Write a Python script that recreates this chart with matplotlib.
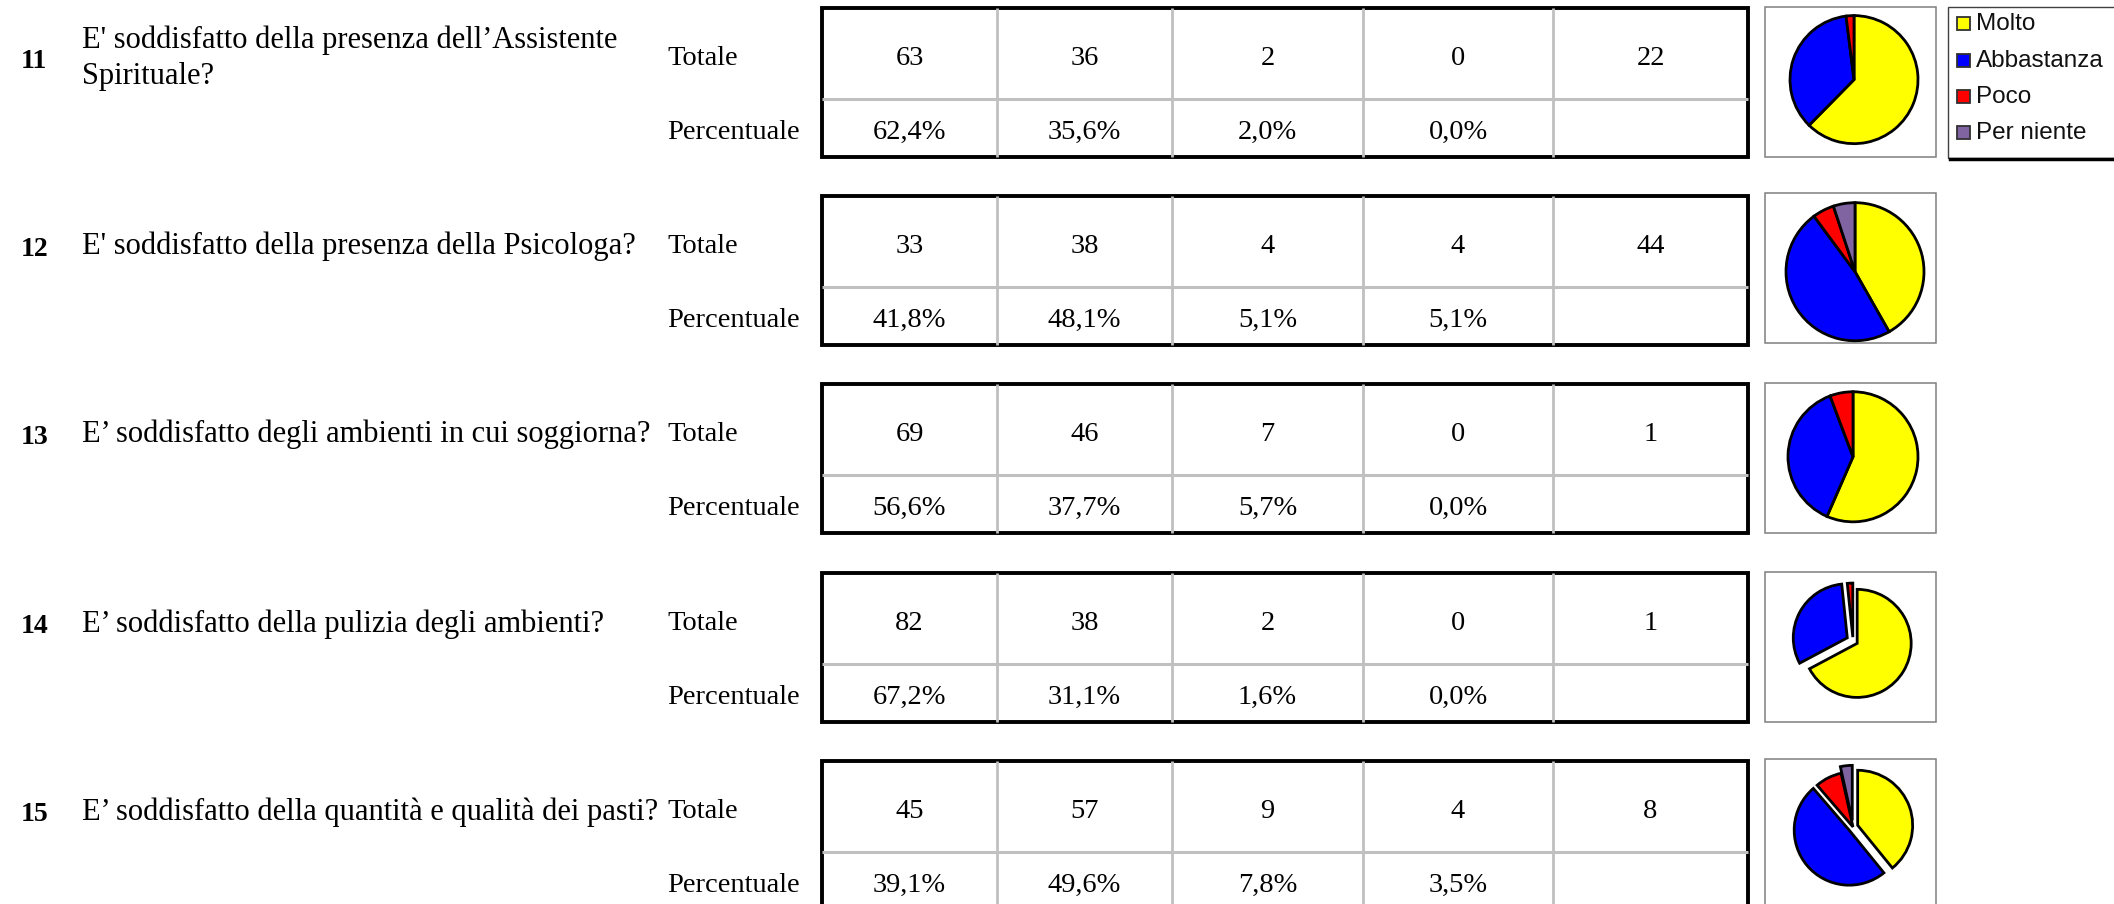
import matplotlib
matplotlib.use("Agg")
import matplotlib.pyplot as plt
from matplotlib.patches import Rectangle

# ---------------- data ----------------
q_numbers = ["11", "12", "13", "14", "15"]
questions = [
    "E' soddisfatto della presenza dell\u2019Assistente\nSpirituale?",
    "E' soddisfatto della presenza della Psicologa?",
    "E\u2019 soddisfatto degli ambienti in cui soggiorna?",
    "E\u2019 soddisfatto della pulizia degli ambienti?",
    "E\u2019 soddisfatto della quantit\u00e0 e qualit\u00e0 dei pasti?",
]
row_labels = ["Totale", "Percentuale"]
legend_labels = ["Molto", "Abbastanza", "Poco", "Per niente"]

molto = [63, 33, 69, 82, 45]
abbastanza = [36, 38, 46, 38, 57]
poco = [2, 4, 7, 2, 9]
per_niente = [0, 4, 0, 0, 4]
non_risponde = [22, 44, 1, 1, 8]

pct_molto = ["62,4%", "41,8%", "56,6%", "67,2%", "39,1%"]
pct_abbastanza = ["35,6%", "48,1%", "37,7%", "31,1%", "49,6%"]
pct_poco = ["2,0%", "5,1%", "5,7%", "1,6%", "7,8%"]
pct_per_niente = ["0,0%", "5,1%", "0,0%", "0,0%", "3,5%"]

# ---------------- style / layout ----------------
W, H = 2114, 904
colors = ["#FFFF00", "#0000FF", "#FF0000", "#8064A2"]
serif = ["Liberation Serif", "DejaVu Serif"]
sans = ["Liberation Sans", "DejaVu Sans"]

table_tops = [8, 196, 384, 573, 761]
table_h = 149
mid_off = 91
col_x = [822, 997, 1172, 1363, 1553, 1748]
pie_box_tops = [7, 193, 383, 572, 759]
pie_box_x = (1765, 1936)
pie_box_h = 150
pie_centers = [(1854, 80), (1855, 272), (1853, 457), (1853, 641), (1853, 827)]
pie_radii = [64, 69, 65, 54, 55]
explode_frac = [
    [0, 0, 0, 0],
    [0, 0, 0, 0],
    [0, 0, 0, 0],
    [0.09, 0.12, 0.07, 0],
    [0.09, 0.09, 0, 0.12],
]

fig = plt.figure(figsize=(W / 100, H / 100 + 0.004), dpi=100)
ax = fig.add_axes([0, 0, 1, 1])


def Y(y):
    return H - y


fs = 20.5
qfs = 22
for i in range(5):
    top = table_tops[i]
    mid = top + mid_off
    bot = top + table_h
    c_top = (top + mid) / 2 + 5
    c_bot = (mid + bot) / 2 + 4

    # question number and text
    ax.text(21, Y(c_top + 3), q_numbers[i], fontsize=20, fontweight="bold",
            family=serif, ha="left", va="center")
    ax.text(82, Y(c_top), questions[i], fontsize=qfs,
            family=serif, ha="left", va="center", linespacing=1.33)

    # row labels
    ax.text(667, Y(c_top), row_labels[0], fontsize=fs, family=serif,
            ha="left", va="center")
    ax.text(667, Y(c_bot), row_labels[1], fontsize=fs, family=serif,
            ha="left", va="center")

    # grid lines (gray)
    ax.plot([col_x[0], col_x[-1]], [Y(mid), Y(mid)], color="#C0C0C0", lw=2.2,
            solid_capstyle="butt")
    for x in col_x[1:-1]:
        ax.plot([x, x], [Y(top), Y(min(bot, H + 10))], color="#C0C0C0", lw=2.0,
                solid_capstyle="butt")
    # outer border
    ax.add_patch(Rectangle((col_x[0], Y(bot)), col_x[-1] - col_x[0], table_h,
                           fill=False, edgecolor="black", lw=2.8))

    # cell values
    tot = [molto[i], abbastanza[i], poco[i], per_niente[i], non_risponde[i]]
    pct = [pct_molto[i], pct_abbastanza[i], pct_poco[i], pct_per_niente[i], ""]
    for j in range(5):
        cx = (col_x[j] + col_x[j + 1]) / 2
        ax.text(cx, Y(c_top), str(tot[j]), fontsize=fs, family=serif,
                ha="center", va="center")
        if pct[j]:
            ax.text(cx, Y(c_bot), pct[j], fontsize=fs, family=serif,
                    ha="center", va="center")

    # pie box
    pt = pie_box_tops[i]
    ax.add_patch(Rectangle((pie_box_x[0], Y(pt + pie_box_h)),
                           pie_box_x[1] - pie_box_x[0], pie_box_h,
                           fill=False, edgecolor="#7F7F7F", lw=1.1))

    # pie
    vals = [molto[i], abbastanza[i], poco[i], per_niente[i]]
    keep = [k for k in range(4) if vals[k] > 0]
    pcx, pcy = pie_centers[i]
    r = pie_radii[i]
    ax.pie([vals[k] for k in keep], colors=[colors[k] for k in keep],
           explode=[explode_frac[i][k] * r for k in keep],
           center=(pcx, Y(pcy)), radius=r, startangle=90,
           counterclock=False,
           wedgeprops=dict(edgecolor="black", linewidth=2.0))

# legend
lg_left, lg_top, lg_bot = 1948, 7, 158
ax.add_patch(Rectangle((lg_left, Y(lg_bot)), 200, lg_bot - lg_top,
                       fill=False, edgecolor="#404040", lw=1.0))
ax.plot([lg_left + 2, W], [Y(lg_bot + 1), Y(lg_bot + 1)], color="black", lw=2.5)
leg_y = [24, 61, 97, 133]
for k, lab in enumerate(legend_labels):
    ax.add_patch(Rectangle((1957, Y(leg_y[k] + 6.5)), 13, 13,
                           facecolor=colors[k], edgecolor="#303030", lw=1.3))
    ax.text(1976, Y(leg_y[k]), lab, fontsize=17.5, family=sans,
            ha="left", va="center", color="#111111")

ax.set_xlim(0, W)
ax.set_ylim(0, H)
ax.set_aspect("auto")
ax.axis("off")

fig.savefig("out.png", dpi=100, facecolor="white")
